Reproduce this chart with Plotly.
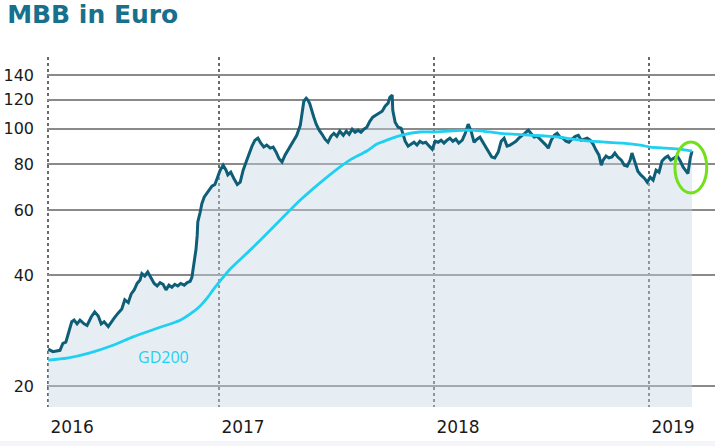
import math
import plotly.graph_objects as go

# ---------------- data ----------------
price_dates = [
    "2016-03-17", "2016-03-25", "2016-04-06", "2016-04-11", "2016-04-16", "2016-04-21", "2016-04-26", "2016-04-30",
    "2016-05-05", "2016-05-10", "2016-05-17", "2016-05-22", "2016-05-29", "2016-06-04", "2016-06-10", "2016-06-15",
    "2016-06-20", "2016-06-27", "2016-07-02", "2016-07-07", "2016-07-14", "2016-07-20", "2016-07-25", "2016-07-31",
    "2016-08-05", "2016-08-10", "2016-08-15", "2016-08-20", "2016-08-23", "2016-08-28", "2016-09-02", "2016-09-08",
    "2016-09-13", "2016-09-18", "2016-09-23", "2016-09-28", "2016-10-03", "2016-10-08", "2016-10-13", "2016-10-18",
    "2016-10-23", "2016-10-28", "2016-11-03", "2016-11-08", "2016-11-13", "2016-11-16", "2016-11-20", "2016-11-23",
    "2016-11-25", "2016-11-26", "2016-11-30", "2016-12-03", "2016-12-07", "2016-12-10", "2016-12-15", "2016-12-20",
    "2016-12-25", "2016-12-30",
    "2017-01-03", "2017-01-08", "2017-01-13", "2017-01-16", "2017-01-21", "2017-01-26", "2017-02-01", "2017-02-06",
    "2017-02-11", "2017-02-16", "2017-02-21", "2017-02-26", "2017-03-03", "2017-03-08", "2017-03-13", "2017-03-18",
    "2017-03-23", "2017-03-29", "2017-04-03", "2017-04-08", "2017-04-13", "2017-04-18", "2017-04-23", "2017-04-28",
    "2017-05-03", "2017-05-08", "2017-05-13", "2017-05-19", "2017-05-22", "2017-05-25", "2017-05-29", "2017-06-01",
    "2017-06-04", "2017-06-08", "2017-06-11", "2017-06-15", "2017-06-20", "2017-06-25", "2017-06-30", "2017-07-05",
    "2017-07-10", "2017-07-15", "2017-07-20", "2017-07-25", "2017-07-31", "2017-08-05", "2017-08-10", "2017-08-15",
    "2017-08-20", "2017-08-25", "2017-08-30", "2017-09-04", "2017-09-09", "2017-09-14", "2017-09-19", "2017-09-24",
    "2017-09-30", "2017-10-05", "2017-10-10", "2017-10-15", "2017-10-18", "2017-10-22", "2017-10-23", "2017-10-27",
    "2017-11-01", "2017-11-06", "2017-11-09", "2017-11-13", "2017-11-18", "2017-11-23", "2017-11-28", "2017-12-03",
    "2017-12-08", "2017-12-13", "2017-12-18", "2017-12-24", "2017-12-29",
    "2018-01-03", "2018-01-08", "2018-01-13", "2018-01-18", "2018-01-23", "2018-01-28", "2018-02-02", "2018-02-07",
    "2018-02-12", "2018-02-18", "2018-02-23", "2018-02-28", "2018-03-05", "2018-03-10", "2018-03-15", "2018-03-20",
    "2018-03-25", "2018-03-30", "2018-04-04", "2018-04-09", "2018-04-14", "2018-04-20", "2018-04-25", "2018-04-30",
    "2018-05-05", "2018-05-10", "2018-05-15", "2018-05-20", "2018-05-25", "2018-05-30", "2018-06-04", "2018-06-10",
    "2018-06-15", "2018-06-20", "2018-06-25", "2018-06-30", "2018-07-05", "2018-07-10", "2018-07-14", "2018-07-19",
    "2018-07-24", "2018-07-29", "2018-08-03", "2018-08-08", "2018-08-13", "2018-08-18", "2018-08-23", "2018-08-29",
    "2018-09-03", "2018-09-08", "2018-09-13", "2018-09-18", "2018-09-23", "2018-09-28", "2018-10-03", "2018-10-08",
    "2018-10-12", "2018-10-15", "2018-10-20", "2018-10-25", "2018-10-30", "2018-11-04", "2018-11-09", "2018-11-15",
    "2018-11-20", "2018-11-25", "2018-11-30", "2018-12-03", "2018-12-08", "2018-12-13", "2018-12-18", "2018-12-24",
    "2018-12-29",
    "2019-01-03", "2019-01-08", "2019-01-13", "2019-01-18", "2019-01-23", "2019-01-28", "2019-02-02", "2019-02-07",
    "2019-02-12", "2019-02-18", "2019-02-23", "2019-02-28", "2019-03-05", "2019-03-08", "2019-03-12", "2019-03-15",
]
price_values = [
    25.2, 24.8, 25.0, 26.1, 26.3, 27.9, 29.9, 30.2,
    29.5, 30.2, 29.5, 29.2, 30.8, 31.8, 31.0, 29.5,
    29.9, 29.0, 29.9, 30.6, 31.6, 32.4, 34.3, 33.7,
    35.6, 36.5, 38.0, 38.8, 40.4, 39.8, 40.8, 39.3,
    38.0, 37.4, 38.2, 37.8, 36.5, 37.6, 37.1, 37.8,
    37.4, 38.0, 37.6, 38.2, 38.5, 39.5, 43.5, 47.1,
    51.4, 55.8, 59.3, 62.7, 65.3, 66.4, 67.7, 69.8,
    70.6, 74.3,
    77.2, 79.6, 77.2, 74.9, 76.2, 73.4, 70.6, 71.6,
    77.2, 81.2, 85.9, 89.7, 93.1, 94.3, 91.4, 89.2,
    90.3, 88.6, 89.2, 86.4, 82.9, 81.2, 84.8, 87.5,
    89.7, 92.5, 96.0, 102.2, 111.0, 118.8, 121.0, 119.6,
    117.0, 112.3, 107.5, 102.9, 99.1, 96.6, 93.7, 91.9,
    95.4, 97.2, 95.4, 98.5, 96.0, 98.5, 96.6, 99.7,
    97.8, 99.1, 97.8, 99.7, 101.0, 104.8, 107.5, 108.8,
    110.2, 111.6, 115.2, 117.4, 121.8, 123.4, 112.3, 104.2,
    101.0, 100.4, 97.2, 92.5, 89.7, 90.9, 91.9, 90.3,
    92.5, 91.4, 91.9, 89.7, 88.0,
    92.5, 91.9, 93.1, 91.4, 93.1, 94.3, 92.5, 93.7,
    91.4, 93.1, 97.2, 102.9, 98.5, 91.9, 93.7, 94.9,
    91.9, 89.2, 85.9, 83.8, 83.3, 86.4, 92.5, 94.3,
    89.7, 90.3, 91.4, 92.5, 94.3, 96.0, 97.2, 99.1,
    96.6, 94.9, 95.4, 93.7, 92.5, 90.3, 88.6, 93.1,
    96.0, 97.2, 94.9, 94.3, 92.5, 91.9, 93.7, 95.4,
    96.0, 93.1, 93.7, 94.3, 93.1, 90.9, 87.5, 84.8,
    79.6, 82.2, 84.3, 83.3, 83.8, 85.9, 83.8, 82.2,
    79.6, 79.1, 82.2, 85.9, 81.2, 76.7, 74.9, 73.4,
    71.6,
    73.9, 72.5, 77.2, 76.2, 81.7, 83.3, 84.3, 82.2,
    83.3, 84.3, 81.7, 78.6, 76.7, 75.6, 83.3, 86.9,
]

gd200_dates = [
    "2016-03-17", "2016-04-18", "2016-05-27", "2016-07-05", "2016-08-08", "2016-09-18", "2016-10-27", "2016-11-18",
    "2016-11-30", "2016-12-12", "2016-12-22", "2017-01-03", "2017-01-20", "2017-02-18", "2017-03-12", "2017-04-15",
    "2017-05-19", "2017-06-21", "2017-07-25", "2017-08-11", "2017-09-09", "2017-09-26", "2017-10-13", "2017-11-09",
    "2017-12-08", "2017-12-30", "2018-01-28", "2018-02-26", "2018-03-25", "2018-04-23", "2018-05-22", "2018-06-18",
    "2018-07-17", "2018-08-03", "2018-08-25", "2018-09-23", "2018-10-22", "2018-11-18", "2018-12-17", "2019-01-03",
    "2019-01-28", "2019-02-23", "2019-03-15",
]
gd200_values = [
    23.5, 23.8, 24.6, 25.8, 27.2, 28.7, 30.2, 31.8,
    33.0, 34.7, 36.5, 38.6, 41.6, 46.0, 49.8, 56.5,
    64.0, 71.2, 78.7, 82.2, 87.0, 90.9, 93.1, 96.2,
    98.0, 98.0, 98.6, 99.1, 98.6, 97.2, 96.6, 96.0,
    95.4, 94.9, 93.7, 92.5, 91.9, 91.4, 90.3, 89.2,
    88.6, 88.0, 86.9,
]

year_tick_dates = ["2016-03-17", "2017-01-01", "2018-01-01", "2019-01-01"]
year_tick_labels = ["2016", "2017", "2018", "2019"]
y_tick_values = [20, 40, 60, 80, 100, 120, 140]

title_text = "MBB in Euro"
gd200_label = "GD200"

# ---------------- figure ----------------
PRICE_COLOR = "#0f5e78"
GD_COLOR = "#1fd0f2"

fig = go.Figure()
fig.add_trace(go.Scatter(
    x=price_dates, y=price_values, mode="lines",
    line=dict(color=PRICE_COLOR, width=3),
    fill="tozeroy", fillcolor="rgba(197,215,227,0.42)",
    hoverinfo="skip", showlegend=False,
))
fig.add_trace(go.Scatter(
    x=gd200_dates, y=gd200_values, mode="lines",
    line=dict(color=GD_COLOR, width=2.8, shape="spline", smoothing=0.6),
    hoverinfo="skip", showlegend=False,
))

fig.add_annotation(
    x="2016-08-13", y=math.log10(24.0), xref="x", yref="y", text=gd200_label,
    showarrow=False, xanchor="left", yanchor="middle",
    font=dict(family="Open Sans", size=16, color=GD_COLOR),
)

# green highlight ellipse around the latest price
fig.add_shape(
    type="circle", xref="x", yref="y",
    x0="2019-02-14", x1="2019-04-09", y0=66.9, y1=92.1,
    line=dict(color="#72e01a", width=3),
)

# faint band at the very bottom
fig.add_shape(
    type="rect", xref="paper", yref="paper",
    x0=-0.1, x1=1.1, y0=-0.12, y1=-0.097,
    fillcolor="#f3f5f8", line=dict(width=0), layer="below",
)

fig.update_layout(
    width=715, height=446,
    margin=dict(l=47, r=0, t=57, b=39, autoexpand=False),
    paper_bgcolor="white", plot_bgcolor="white",
    title=dict(
        text="<b>" + title_text + "</b>", x=0.01, xanchor="left",
        y=0.969, yanchor="middle", yref="container", automargin=False,
        font=dict(family="DejaVu Sans", size=25, color="#17708c"),
    ),
    xaxis=dict(
        type="date", range=["2016-03-15", "2019-04-23"],
        tickvals=year_tick_dates, ticktext=year_tick_labels,
        showgrid=True, gridcolor="#6a6a6a", griddash="dot", gridwidth=1.5,
        zeroline=False, showline=False, ticks="", automargin=False,
        ticklabelshift=24, ticklabelstandoff=8,
        tickfont=dict(family="DejaVu Sans", size=17, color="#1a1a1a"),
    ),
    yaxis=dict(
        type="log", range=[1.244, 2.195],
        tickvals=y_tick_values, ticktext=[str(v) for v in y_tick_values],
        showgrid=True, gridcolor="#8a8a8a", gridwidth=2,
        zeroline=False, showline=False, ticks="", automargin=False,
        ticklabelstandoff=12,
        tickfont=dict(family="DejaVu Sans", size=16, color="#1a1a1a"),
    ),
)

fig.write_html(
    "out.html",
    config={"displayModeBar": False, "staticPlot": True},
    post_script="document.body.style.margin='0';",
)
